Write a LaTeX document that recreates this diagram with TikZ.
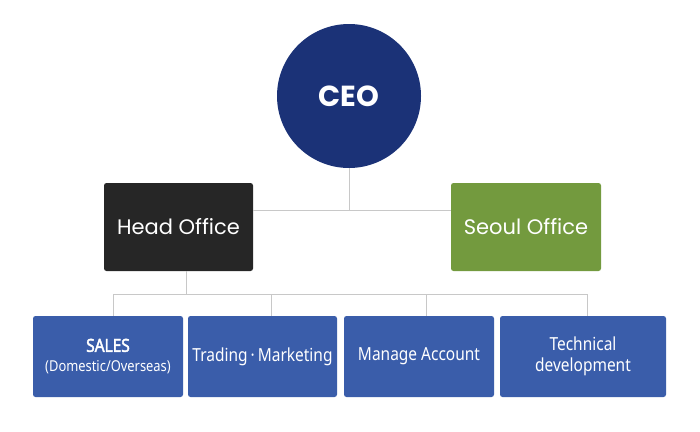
\documentclass[tikz,border=0pt]{standalone}
\usepackage{fontspec}
\usepackage{tikz}
\usetikzlibrary{positioning}
\newfontfamily\headfont{Poppins}
\newfontfamily\deptfont[FakeStretch=0.86,BoldFont={Noto Sans},BoldFeatures={FakeBold=2.2,FakeStretch=0.86}]{Noto Sans}
\definecolor{ceoblue}{HTML}{1B3277}
\definecolor{headblack}{HTML}{262626}
\definecolor{seoulgreen}{HTML}{739A3E}
\definecolor{deptblue}{HTML}{3A5DAA}
\definecolor{linegray}{HTML}{C8C8C8}

\begin{document}
\begin{tikzpicture}[x=1pt,y=-1pt,semithick]
                \tikzstyle{office}=[rectangle,rounded corners=2.5pt,text=white,font=\headfont\fontsize{21}{25}\selectfont,inner sep=0pt,minimum height=88pt]
                \tikzstyle{dept}=[rectangle,rounded corners=2.5pt,fill=deptblue,text=white,font=\deptfont\fontsize{18}{21}\selectfont,align=center,inner sep=0pt,minimum height=81pt]
                \tikzstyle{link}=[draw=linegray,line width=1pt]
                \useasboundingbox (0,0) rectangle (700,431);

                \node[circle, fill=ceoblue, text=white, minimum size=144pt, inner sep=0pt,
                      font=\headfont\fontsize{29}{34}\selectfont\bfseries]   (ceo)   at (349,96)     {CEO};
                \node[office, fill=headblack, minimum width=149pt]          (head)  at (178.5,227)  {Head Office};
                \node[office, fill=seoulgreen, minimum width=150pt]         (seoul) at (526,227)    {Seoul Office};

                \node[dept, minimum width=150pt]    (sales)  at (108,356.5)   {\textbf{SALES}\\[-1pt]{\fontsize{15}{18}\selectfont(Domestic/Overseas)}};
                \node[dept, minimum width=149pt]    (trade)  at (262.5,356.5) {Trading\,·\,Marketing};
                \node[dept, minimum width=150pt]    (manage) at (419,356.5)   {Manage Account};
                \node[dept, minimum width=166pt]    (tech)   at (583,356.5)   {Technical\\development};

                % connectors
                \coordinate (top) at (349,210);
                \coordinate (bus) at (186,294);
                \coordinate (busL) at (113,294);
                \coordinate (busR) at (587,294);

                \path[link]
                (ceo) -- (top)
                (head.east |- top) -- (seoul.west |- top)
                (head.south -| bus) -- (bus)
                (busL) -- (busR)
                (busL) -- (busL |- sales.north)
                (271,294) -- (trade.north -| 271,0)
                (426,294) -- (manage.north -| 426,0)
                (busR) -- (busR |- tech.north);
            \end{tikzpicture}
\end{document}
